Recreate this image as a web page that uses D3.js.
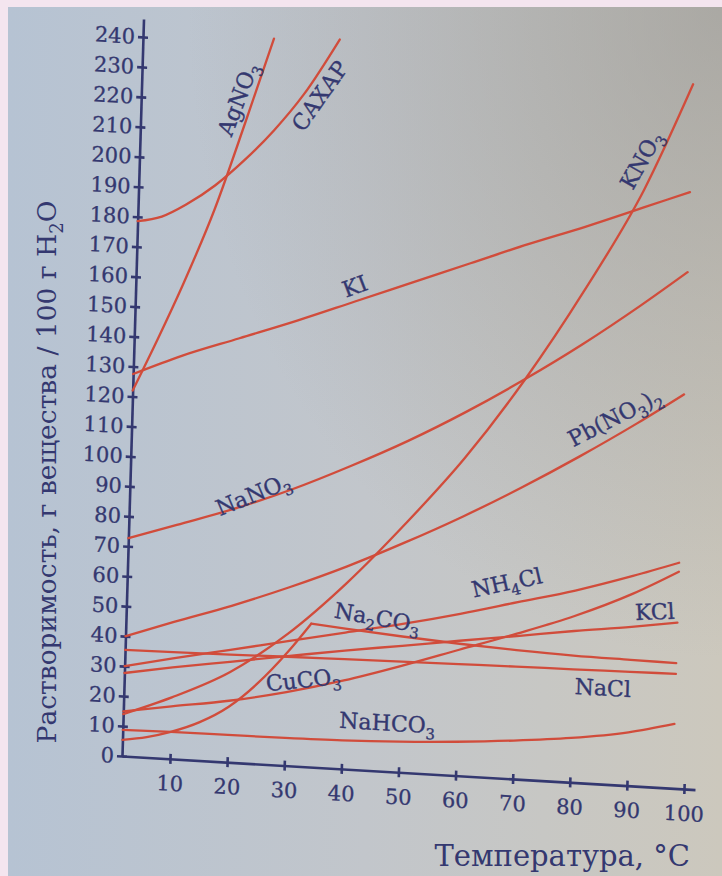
<!DOCTYPE html>
<html>
<head>
<meta charset="utf-8">
<script src="https://cdn.jsdelivr.net/npm/d3@7"></script>
<style>
  html, body { margin: 0; padding: 0; background: #f4e5ef; }
  svg { display: block; }
</style>
</head>
<body>
<svg id="chart" width="722" height="876"></svg>
<script>
// Solubility (g per 100 g water) against temperature (°C)
const temps = [0, 10, 20, 30, 40, 50, 60, 70, 80, 90, 98];

const agno3T = [0, 5, 10, 15, 20, 24.5];
const agno3V = [122, 140, 159, 184, 214, 242];
const sugarT = [0, 5, 10, 15, 20, 25, 30, 36];
const sugarV = [178.5, 180.5, 185, 192, 201, 211.5, 224, 243];
const kiV     = [127.5, 134.5, 141.5, 148.5, 156, 163.5, 171, 178.5, 185.5, 193, 199];
const kno3V   = [14, 20.5, 30, 44, 62, 83, 106, 133, 164, 199, 235];
const nano3V  = [72.7, 78.1, 84.6, 92.2, 101, 110.6, 121.4, 133.3, 146.2, 160.3, 172.3];
const pbno3V  = [40, 45.7, 52.2, 59.5, 67.6, 76.7, 86.5, 97.2, 108.7, 121, 131.5];
const nh4clV  = [30, 33.5, 37.5, 41.5, 45.5, 49.5, 54, 59, 64, 70, 75.3];
const kclV    = [27.7, 30.5, 33.5, 36.5, 39.5, 42.2, 45, 47.7, 50.5, 53, 55.3];
const cuco3V  = [14.9, 17.5, 20.5, 24.5, 29.5, 35.5, 42, 48.5, 55.5, 64, 72.3];
const naclV   = [35.4, 35.6, 35.9, 36.3, 36.6, 36.9, 37.2, 37.5, 37.7, 38, 38.2];
const nahco3V = [8.7, 9, 9.1, 9.2, 9.5, 10.2, 11.3, 12.8, 14.8, 17.8, 21.5];
// Na2CO3 rises to a sharp maximum, then falls slowly
const na2co3T = [0, 5, 10, 15, 20, 25, 30, 34, 40, 50, 60, 70, 80, 90, 98];
const na2co3V = [5.4, 6.8, 9, 12.8, 18.5, 27, 37.8, 47.8, 46.8, 45.3, 44, 43, 42.3, 42, 41.8];
const na2co3Peak = 34;

// Axis ticks
const xTicks = [10, 20, 30, 40, 50, 60, 70, 80, 90, 100];
const yTicks = d3.range(0, 241, 10);

// Curve labels: text (_n = subscript), anchor in data units, angle
const labelText  = ["AgNO_3", "САХАР", "KI", "KNO_3", "NaNO_3", "Pb(NO_3)_2", "NH_4Cl", "Na_2CO_3", "KCl", "CuCO_3", "NaCl", "NaHCO_3"];
const labelT     = [18.5, 32.8, 39.9, 89.3, 23.2, 86, 68, 45.5, 94, 32.9, 85.3, 47.8];
const labelS     = [221.2, 223.8, 161.1, 208.8, 89.7, 122.5, 65.3, 51.1, 58.5, 28.9, 32.1, 16.2];
const labelAngle = [-71, -57, -23, -63, -25, -30, -15, 7, -5, -9, 0, 0];

const zip = (ts, vs) => ts.map((t, i) => [t, vs[i]]);
const series = [
  zip(agno3T, agno3V), zip(sugarT, sugarV),
  zip(temps, kiV), zip(temps, kno3V), zip(temps, nano3V), zip(temps, pbno3V),
  zip(temps, nh4clV), zip(temps, kclV), zip(temps, cuco3V), zip(temps, naclV),
  zip(temps, nahco3V),
  // Na2CO3 drawn as two pieces meeting at the maximum
  zip(na2co3T, na2co3V).filter(d => d[0] <= na2co3Peak),
  zip(na2co3T, na2co3V).filter(d => d[0] >= na2co3Peak)
];

const INK = "#343870";
const RED = "#d14c3b";
const FONT = "'DejaVu Serif', serif";

const svg = d3.select("#chart");

// page background
const defs = svg.append("defs");
const lg = defs.append("linearGradient").attr("id", "paper").attr("x1", 0).attr("x2", 1).attr("y1", 0).attr("y2", 0);
lg.append("stop").attr("offset", 0).attr("stop-color", "#b6c3d3");
lg.append("stop").attr("offset", 0.5).attr("stop-color", "#c2c6cb");
lg.append("stop").attr("offset", 1).attr("stop-color", "#ccc8bd");
const rg = defs.append("radialGradient").attr("id", "shade").attr("cx", 1).attr("cy", 0).attr("r", 0.75);
rg.append("stop").attr("offset", 0).attr("stop-color", "#8f8f8f").attr("stop-opacity", 0.55);
rg.append("stop").attr("offset", 1).attr("stop-color", "#8f8f8f").attr("stop-opacity", 0);

svg.append("rect").attr("x", 8).attr("y", 7).attr("width", 714).attr("height", 869).attr("fill", "url(#paper)");
svg.append("rect").attr("x", 8).attr("y", 7).attr("width", 714).attr("height", 869).attr("fill", "url(#shade)");

// scales
const x = d3.scaleLinear().domain([0, 10, 100, 102]).range([122, 170, 684, 695]);
const y = d3.scaleLinear().domain([0, 246]).range([756, 756 - 246 * 2.996]);

// the printed figure sits slightly sheared on the page
const ox = x(0), oy = y(0);
const g = svg.append("g")
  .attr("transform", `translate(${ox},${oy}) matrix(1,0.0587,-0.0292,1,0,0) translate(${-ox},${-oy})`);

// axes
const gy = g.append("g").attr("transform", `translate(${ox},0)`)
  .call(d3.axisLeft(y).tickValues(yTicks).tickSizeInner(5).tickSizeOuter(0).tickPadding(3));
gy.selectAll(".tick line").attr("x1", 5);

const gx = g.append("g").attr("transform", `translate(0,${oy})`)
  .call(d3.axisBottom(x).tickValues(xTicks).tickSizeInner(5).tickSizeOuter(0).tickPadding(12));
gx.selectAll(".tick line").attr("y1", -5);

g.selectAll(".domain").attr("stroke", INK).attr("stroke-width", 2.6);
g.selectAll(".tick line").attr("stroke", INK).attr("stroke-width", 2.6);
g.selectAll(".tick text").attr("fill", INK)
  .attr("stroke", INK).attr("stroke-width", 0.3)
  .style("font-family", FONT).style("font-size", "21px");

// curves
const line = d3.line().x(d => x(d[0])).y(d => y(d[1])).curve(d3.curveMonotoneX);
g.append("g").selectAll("path").data(series).join("path")
  .attr("d", line)
  .attr("fill", "none")
  .attr("stroke", RED)
  .attr("stroke-width", 2.3)
  .attr("stroke-linecap", "round");

// formula text, vertically centred on its anchor: "_n" marks a lowered, smaller digit
function addChem(sel, str, size) {
  const drop = Math.round(size * 0.28);
  let shift = size * 0.35;   // centring offset carried by the first run
  let lowered = false;
  str.split(/(_\d)/).filter(s => s.length).forEach(part => {
    if (part[0] === "_") {
      sel.append("tspan").attr("dy", shift + (lowered ? 0 : drop))
        .style("font-size", (size * 0.68) + "px").text(part.slice(1));
      lowered = true;
    } else {
      sel.append("tspan").attr("dy", shift + (lowered ? -drop : 0)).text(part);
      lowered = false;
    }
    shift = 0;
  });
}
labelText.forEach((txt, i) => {
  const t = g.append("text")
    .attr("transform", `translate(${x(labelT[i])},${y(labelS[i])}) rotate(${labelAngle[i]})`)
    .attr("text-anchor", "middle")
    .attr("fill", INK)
    .attr("stroke", INK).attr("stroke-width", 0.35)
    .style("font-family", FONT)
    .style("font-size", "22px");
  addChem(t, txt, 22);
});

// axis titles
const yt = svg.append("text")
  .attr("transform", "translate(47,472) rotate(-90)")
  .attr("text-anchor", "middle")
  .attr("fill", INK)
  .style("font-family", FONT)
  .style("font-size", "26.5px");
addChem(yt, "Растворимость, г вещества / 100 г H_2O", 26.5);

svg.append("text")
  .attr("x", 690).attr("y", 866)
  .attr("text-anchor", "end")
  .attr("fill", INK)
  .style("font-family", FONT)
  .style("font-size", "29px")
  .text("Температура, °C");
</script>
</body>
</html>
